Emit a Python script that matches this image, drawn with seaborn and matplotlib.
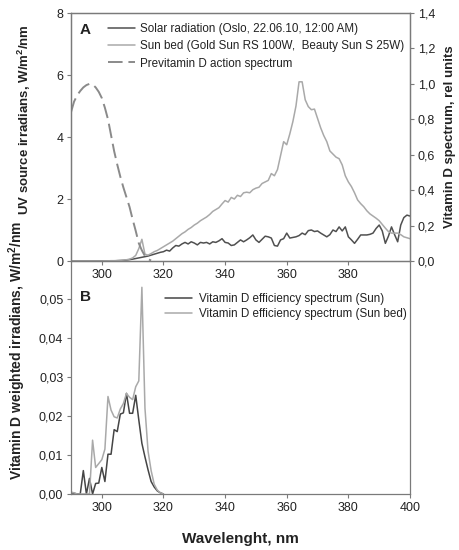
import matplotlib
matplotlib.use("Agg")
import matplotlib.pyplot as plt
import seaborn as sns
import pandas as pd

# ---------------- data ----------------
wavelength = list(range(290, 401))

solar_irradiance = [0, 0, 0, 0, 0, 0, 0, 0, 0, 0, 0, 0, 0, 0,
    0.005, 0.01, 0.015, 0.02, 0.03, 0.045, 0.06, 0.08, 0.1, 0.12, 0.14, 0.16, 0.19, 0.22, 0.25, 0.28,
    0.3, 0.35, 0.32, 0.42, 0.5, 0.48, 0.55, 0.6, 0.55, 0.62, 0.58, 0.52, 0.6, 0.58, 0.6, 0.55,
    0.62, 0.6, 0.65, 0.72, 0.6, 0.58, 0.5, 0.52, 0.6, 0.68, 0.62, 0.68, 0.75, 0.84, 0.68, 0.6,
    0.7, 0.8, 0.78, 0.74, 0.5, 0.48, 0.68, 0.72, 0.9, 0.74, 0.76, 0.78, 0.82, 0.9, 0.85, 0.98,
    1.0, 0.95, 0.97, 0.9, 0.84, 0.78, 0.85, 1.0, 0.95, 1.1, 0.97, 1.1, 0.78, 0.68, 0.57, 0.7,
    0.84, 0.84, 0.84, 0.86, 0.9, 1.05, 1.16, 0.97, 0.57, 0.8, 1.1, 0.85, 0.62, 1.16, 1.4, 1.48, 1.45]

sunbed_irradiance = [0, 0, 0, 0, 0, 0, 0, 0, 0, 0, 0, 0.005, 0.005, 0.01, 0.01,
    0.015, 0.02, 0.03, 0.04, 0.06, 0.1, 0.18, 0.4, 0.7, 0.22, 0.19, 0.24, 0.3, 0.34, 0.4,
    0.46, 0.52, 0.58, 0.64, 0.72, 0.8, 0.88, 0.94, 1.02, 1.08, 1.16, 1.22, 1.3, 1.36, 1.42, 1.5,
    1.6, 1.66, 1.72, 1.84, 1.95, 1.9, 2.05, 2.0, 2.12, 2.08, 2.2, 2.22, 2.2, 2.3, 2.35, 2.38,
    2.5, 2.55, 2.6, 2.82, 2.75, 2.95, 3.4, 3.85, 3.75, 4.1, 4.5, 5.0, 5.78, 5.78, 5.2, 4.98,
    4.88, 4.9, 4.6, 4.3, 4.05, 3.85, 3.55, 3.45, 3.35, 3.3, 3.1, 2.75, 2.55, 2.4, 2.2, 1.97,
    1.85, 1.75, 1.62, 1.52, 1.45, 1.38, 1.3, 1.18, 1.06, 0.95, 0.9, 0.9, 0.9, 0.85, 0.78, 0.75, 0.72]

action_wavelength = list(range(290, 317))
action_spectrum = [0.84, 0.9, 0.935, 0.96, 0.98, 0.993, 1.0, 0.997, 0.98, 0.955, 0.92, 0.865,
    0.8, 0.71, 0.62, 0.545, 0.476, 0.415, 0.36, 0.305, 0.235, 0.17, 0.1, 0.06, 0.028, 0.01, 0.003]

eff_wavelength = list(range(290, 321))
eff_sun = [0.0003, 0.0002, 0, 0, 0.006, 0, 0.004, 0, 0.0027, 0.0028, 0.0068, 0.0032, 0.0102,
    0.0102, 0.0165, 0.016, 0.0205, 0.0208, 0.0258, 0.0207, 0.0207, 0.0253, 0.019, 0.013, 0.0095,
    0.0062, 0.0032, 0.0018, 0.0008, 0.0003, 0.0]
eff_sunbed = [0.0005, 0.0003, 0, 0, 0, 0, 0, 0.0138, 0.0068, 0.0078, 0.0088, 0.0115, 0.025,
    0.0215, 0.0198, 0.0195, 0.0218, 0.0232, 0.0258, 0.0248, 0.0242, 0.0275, 0.029, 0.053, 0.022,
    0.011, 0.006, 0.0025, 0.001, 0.0003, 0.0]

labels_a = ["Solar radiation (Oslo, 22.06.10, 12:00 AM)",
            "Sun bed (Gold Sun RS 100W,  Beauty Sun S 25W)",
            "Previtamin D action spectrum"]
labels_b = ["Vitamin D efficiency spectrum (Sun)",
            "Vitamin D efficiency spectrum (Sun bed)"]

xticks_a = [300, 320, 340, 360, 380]
xticks_b = [300, 320, 340, 360, 380, 400]
yticks_left = [0, 2, 4, 6, 8]
yticks_left_labels = ["0", "2", "4", "6", "8"]
yticks_right = [0.0, 0.2, 0.4, 0.6, 0.8, 1.0, 1.2, 1.4]
yticks_right_labels = ["0,0", "0,2", "0,4", "0,6", "0,8", "1,0", "1,2", "1,4"]
yticks_b = [0.0, 0.01, 0.02, 0.03, 0.04, 0.05]
yticks_b_labels = ["0,00", "0,01", "0,02", "0,03", "0,04", "0,05"]

# ---------------- style ----------------
sns.set_theme(style="ticks")
plt.rcParams['font.family'] = ['Liberation Sans', 'DejaVu Sans']
plt.rcParams['mathtext.fontset'] = 'custom'
plt.rcParams['mathtext.rm'] = 'Liberation Sans'
plt.rcParams['mathtext.bf'] = 'Liberation Sans:bold'
plt.rcParams['mathtext.default'] = 'bf'

W, H = 459, 550
fig = plt.figure(figsize=(W / 100, H / 100), dpi=100)
ax_a = fig.add_axes([71 / W, 1 - 261 / H, 339 / W, 248 / H])
ax_b = fig.add_axes([71 / W, 1 - 494 / H, 339 / W, 233 / H])
ax_b.set_facecolor('none')
ax_a2 = ax_a.twinx()

c_dark = '#505050'
c_light = '#a9a9a9'
c_dash = '#8a8a8a'
spine_c = '#7a7a7a'
txt_c = '#222222'

df_a = pd.DataFrame({'wl': wavelength, 'solar': solar_irradiance, 'sunbed': sunbed_irradiance})
df_act = pd.DataFrame({'wl': action_wavelength, 'act': action_spectrum})
df_b = pd.DataFrame({'wl': eff_wavelength, 'sun': eff_sun, 'bed': eff_sunbed})

sns.lineplot(data=df_a, x='wl', y='solar', ax=ax_a, color=c_dark, lw=1.1, legend=False)
sns.lineplot(data=df_a, x='wl', y='sunbed', ax=ax_a, color=c_light, lw=1.1, legend=False)
sns.lineplot(data=df_act, x='wl', y='act', ax=ax_a2, color=c_dash, lw=1.4,
             linestyle=(0, (7.5, 3)), legend=False)

sns.lineplot(data=df_b, x='wl', y='sun', ax=ax_b, color='#454545', lw=1.1, legend=False)
sns.lineplot(data=df_b, x='wl', y='bed', ax=ax_b, color=c_light, lw=1.1, legend=False)

# ---------------- axes ----------------
for ax in (ax_a, ax_b, ax_a2):
    ax.set_xlim(290, 400)
    ax.set_xlabel('')
    ax.set_ylabel('')
    for s in ax.spines.values():
        s.set_color(spine_c)
        s.set_linewidth(0.9)
    ax.tick_params(direction='out', length=3, width=0.8, color=spine_c,
                   labelsize=9, labelcolor=txt_c, pad=2.5)

ax_a.set_ylim(0, 8)
ax_a.set_yticks(yticks_left)
ax_a.set_yticklabels(yticks_left_labels)
ax_a.set_xticks(xticks_a)
ax_a.set_xticklabels([str(t) for t in xticks_a])

ax_a2.set_ylim(0, 1.4)
ax_a2.set_yticks(yticks_right)
ax_a2.set_yticklabels(yticks_right_labels)

ax_b.set_ylim(0, 0.06 * 233 / 234)
ax_b.set_yticks(yticks_b)
ax_b.set_yticklabels(yticks_b_labels)
ax_b.set_xticks(xticks_b)
ax_b.set_xticklabels([str(t) for t in xticks_b])
ax_b.spines['top'].set_visible(False)
ax_b.tick_params(axis='y', right=False)

lab_kw = dict(fontsize=9.5, fontweight='bold', color=txt_c)
ax_a.set_ylabel('UV source irradians, W/m$^2$/nm', **lab_kw)
ax_a.yaxis.set_label_coords(-0.112, 0.57)
ax_a2.set_ylabel('Vitamin D spectrum, rel units', **lab_kw)
ax_a2.yaxis.set_label_coords(1.10, 0.50)
ax_b.set_ylabel('Vitamin D weighted irradians, W/m$^2$/nm', fontsize=10,
                fontweight='bold', color=txt_c)
ax_b.yaxis.set_label_coords(-0.127, 0.615)
ax_b.set_xlabel('Wavelenght, nm', fontsize=11, fontweight='bold', color=txt_c)
ax_b.xaxis.set_label_coords(0.5, -0.162)

fig.text(80 / W, 1 - 30 / H, 'A', fontsize=11, fontweight='bold', va='center', ha='left', color=txt_c)
fig.text(80 / W, 1 - 297 / H, 'B', fontsize=11, fontweight='bold', va='center', ha='left', color=txt_c)

# legends
h_a = [ax_a.lines[0], ax_a.lines[1], ax_a2.lines[0]]
leg_a = ax_a2.legend(h_a, labels_a, loc='upper left', bbox_to_anchor=(108 / W, 1 - 23 / H),
                     bbox_transform=fig.transFigure, frameon=False, fontsize=8.4,
                     handlelength=2.3, handletextpad=0.45, labelspacing=0.45,
                     borderpad=0, borderaxespad=0)
for t in leg_a.get_texts():
    t.set_color(txt_c)

h_b = [ax_b.lines[0], ax_b.lines[1]]
leg_b = ax_b.legend(h_b, labels_b, loc='upper left', bbox_to_anchor=(165 / W, 1 - 293 / H),
                    bbox_transform=fig.transFigure, frameon=False, fontsize=8.4,
                    handlelength=2.3, handletextpad=0.6, labelspacing=0.3,
                    borderpad=0, borderaxespad=0)
for t in leg_b.get_texts():
    t.set_color(txt_c)

fig.savefig('out.png', dpi=100)
